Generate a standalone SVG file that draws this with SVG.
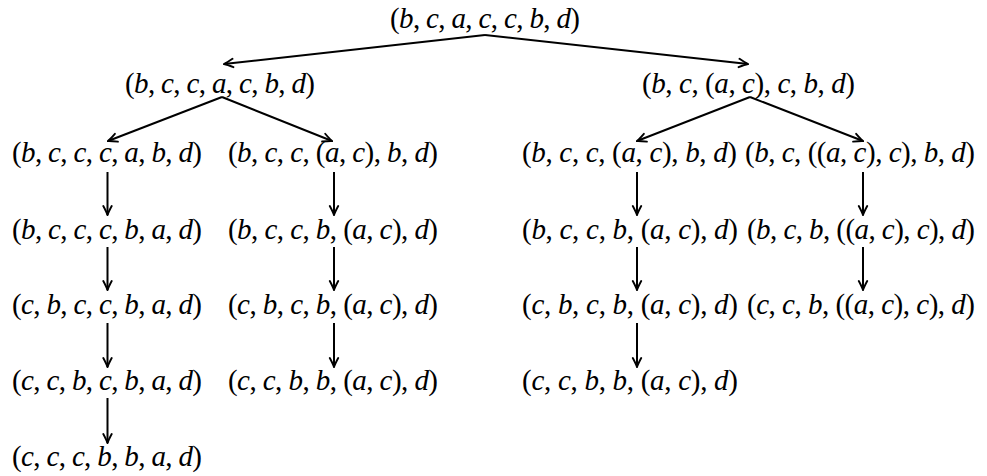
<svg xmlns="http://www.w3.org/2000/svg" width="987" height="476" viewBox="0 0 987 476" font-family="'Liberation Serif', 'DejaVu Serif', serif">
<defs>
<style>
text{font-family:'Liberation Serif','DejaVu Serif',serif;font-size:29px;fill:#000}
.i{font-style:italic}
.e{stroke:#000;stroke-width:2;fill:none;marker-end:url(#ah)}
</style>
<marker id="ah" markerUnits="userSpaceOnUse" viewBox="-11 -6 12 12" refX="0" refY="0" markerWidth="12" markerHeight="12" orient="auto">
<path d="M-9,-4.2 Q-3,-1 0,0 Q-3,1 -9,4.2" fill="none" stroke="#000" stroke-width="1.9" stroke-linecap="round"/>
</marker>
</defs>
<rect width="987" height="476" fill="#fff"/>
<g id="connectors">
<path class="e" d="M485,35 L224,64"/>
<path class="e" d="M485,35 L748,64"/>
<path class="e" d="M222,97 L108,141"/>
<path class="e" d="M222,97 L332,141"/>
<path class="e" d="M750,97 L637,141"/>
<path class="e" d="M750,97 L863,141"/>
<path class="e" d="M107.5,172 L107.5,215"/>
<path class="e" d="M107.5,247 L107.5,290"/>
<path class="e" d="M107.5,323 L107.5,367"/>
<path class="e" d="M107.5,398 L107.5,443"/>
<path class="e" d="M334,172 L334,215"/>
<path class="e" d="M334,247 L334,290"/>
<path class="e" d="M334,323 L334,367"/>
<path class="e" d="M637,172 L637,215"/>
<path class="e" d="M637,247 L637,290"/>
<path class="e" d="M637,323 L637,367"/>
<path class="e" d="M863,172 L863,215"/>
<path class="e" d="M863,247 L863,290"/>
</g>
<g id="n0"><text x="390" y="28" textLength="190">(<tspan class="i">b</tspan>, <tspan class="i">c</tspan>, <tspan class="i">a</tspan>, <tspan class="i">c</tspan>, <tspan class="i">c</tspan>, <tspan class="i">b</tspan>, <tspan class="i">d</tspan>)</text></g>
<g id="n1"><text x="125" y="93" textLength="190">(<tspan class="i">b</tspan>, <tspan class="i">c</tspan>, <tspan class="i">c</tspan>, <tspan class="i">a</tspan>, <tspan class="i">c</tspan>, <tspan class="i">b</tspan>, <tspan class="i">d</tspan>)</text></g>
<g id="n2"><text x="642" y="93" textLength="213">(<tspan class="i">b</tspan>, <tspan class="i">c</tspan>, (<tspan class="i">a</tspan>, <tspan class="i">c</tspan>), <tspan class="i">c</tspan>, <tspan class="i">b</tspan>, <tspan class="i">d</tspan>)</text></g>
<g id="n3"><text x="12" y="162" textLength="190">(<tspan class="i">b</tspan>, <tspan class="i">c</tspan>, <tspan class="i">c</tspan>, <tspan class="i">c</tspan>, <tspan class="i">a</tspan>, <tspan class="i">b</tspan>, <tspan class="i">d</tspan>)</text></g>
<g id="n4"><text x="228" y="162" textLength="210">(<tspan class="i">b</tspan>, <tspan class="i">c</tspan>, <tspan class="i">c</tspan>, (<tspan class="i">a</tspan>, <tspan class="i">c</tspan>), <tspan class="i">b</tspan>, <tspan class="i">d</tspan>)</text></g>
<g id="n5"><text x="522" y="162" textLength="215">(<tspan class="i">b</tspan>, <tspan class="i">c</tspan>, <tspan class="i">c</tspan>, (<tspan class="i">a</tspan>, <tspan class="i">c</tspan>), <tspan class="i">b</tspan>, <tspan class="i">d</tspan>)</text></g>
<g id="n6"><text x="745" y="162" textLength="230">(<tspan class="i">b</tspan>, <tspan class="i">c</tspan>, ((<tspan class="i">a</tspan>, <tspan class="i">c</tspan>), <tspan class="i">c</tspan>), <tspan class="i">b</tspan>, <tspan class="i">d</tspan>)</text></g>
<g id="n7"><text x="12" y="239" textLength="190">(<tspan class="i">b</tspan>, <tspan class="i">c</tspan>, <tspan class="i">c</tspan>, <tspan class="i">c</tspan>, <tspan class="i">b</tspan>, <tspan class="i">a</tspan>, <tspan class="i">d</tspan>)</text></g>
<g id="n8"><text x="228" y="239" textLength="210">(<tspan class="i">b</tspan>, <tspan class="i">c</tspan>, <tspan class="i">c</tspan>, <tspan class="i">b</tspan>, (<tspan class="i">a</tspan>, <tspan class="i">c</tspan>), <tspan class="i">d</tspan>)</text></g>
<g id="n9"><text x="522" y="239" textLength="216">(<tspan class="i">b</tspan>, <tspan class="i">c</tspan>, <tspan class="i">c</tspan>, <tspan class="i">b</tspan>, (<tspan class="i">a</tspan>, <tspan class="i">c</tspan>), <tspan class="i">d</tspan>)</text></g>
<g id="n10"><text x="747" y="239" textLength="228">(<tspan class="i">b</tspan>, <tspan class="i">c</tspan>, <tspan class="i">b</tspan>, ((<tspan class="i">a</tspan>, <tspan class="i">c</tspan>), <tspan class="i">c</tspan>), <tspan class="i">d</tspan>)</text></g>
<g id="n11"><text x="12" y="314" textLength="190">(<tspan class="i">c</tspan>, <tspan class="i">b</tspan>, <tspan class="i">c</tspan>, <tspan class="i">c</tspan>, <tspan class="i">b</tspan>, <tspan class="i">a</tspan>, <tspan class="i">d</tspan>)</text></g>
<g id="n12"><text x="228" y="314" textLength="210">(<tspan class="i">c</tspan>, <tspan class="i">b</tspan>, <tspan class="i">c</tspan>, <tspan class="i">b</tspan>, (<tspan class="i">a</tspan>, <tspan class="i">c</tspan>), <tspan class="i">d</tspan>)</text></g>
<g id="n13"><text x="522" y="314" textLength="216">(<tspan class="i">c</tspan>, <tspan class="i">b</tspan>, <tspan class="i">c</tspan>, <tspan class="i">b</tspan>, (<tspan class="i">a</tspan>, <tspan class="i">c</tspan>), <tspan class="i">d</tspan>)</text></g>
<g id="n14"><text x="747" y="314" textLength="228">(<tspan class="i">c</tspan>, <tspan class="i">c</tspan>, <tspan class="i">b</tspan>, ((<tspan class="i">a</tspan>, <tspan class="i">c</tspan>), <tspan class="i">c</tspan>), <tspan class="i">d</tspan>)</text></g>
<g id="n15"><text x="12" y="390" textLength="190">(<tspan class="i">c</tspan>, <tspan class="i">c</tspan>, <tspan class="i">b</tspan>, <tspan class="i">c</tspan>, <tspan class="i">b</tspan>, <tspan class="i">a</tspan>, <tspan class="i">d</tspan>)</text></g>
<g id="n16"><text x="228" y="390" textLength="210">(<tspan class="i">c</tspan>, <tspan class="i">c</tspan>, <tspan class="i">b</tspan>, <tspan class="i">b</tspan>, (<tspan class="i">a</tspan>, <tspan class="i">c</tspan>), <tspan class="i">d</tspan>)</text></g>
<g id="n17"><text x="522" y="390" textLength="216">(<tspan class="i">c</tspan>, <tspan class="i">c</tspan>, <tspan class="i">b</tspan>, <tspan class="i">b</tspan>, (<tspan class="i">a</tspan>, <tspan class="i">c</tspan>), <tspan class="i">d</tspan>)</text></g>
<g id="n18"><text x="12" y="466" textLength="190">(<tspan class="i">c</tspan>, <tspan class="i">c</tspan>, <tspan class="i">c</tspan>, <tspan class="i">b</tspan>, <tspan class="i">b</tspan>, <tspan class="i">a</tspan>, <tspan class="i">d</tspan>)</text></g>
</svg>
